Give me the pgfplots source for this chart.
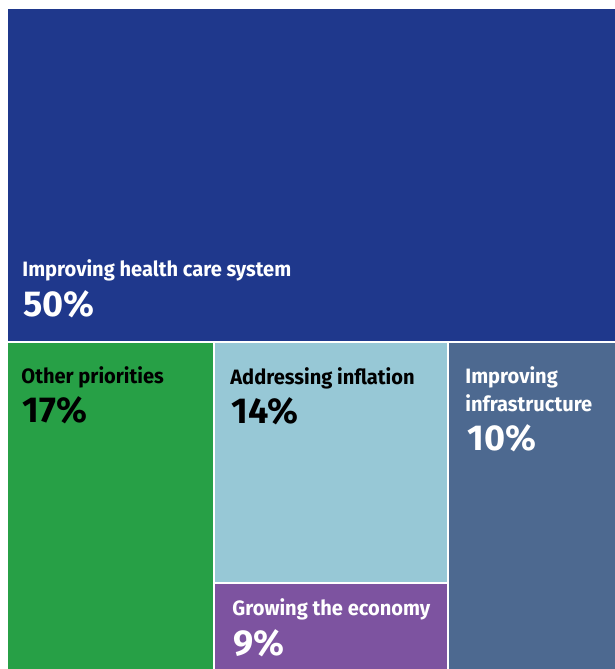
\documentclass[border=0pt]{standalone}
\usepackage{pgfplots}
\pgfplotsset{compat=1.18}
\usepackage{fontspec}
\setmainfont{Fira Sans}
\newfontfamily\labfont{Fira Sans}[FakeStretch=0.965]
\definecolor{cHealth}{HTML}{1F388C}
\definecolor{cOther}{HTML}{27A046}
\definecolor{cInfl}{HTML}{97C8D6}
\definecolor{cInfra}{HTML}{4D6990}
\definecolor{cGrow}{HTML}{7D53A0}
\tikzset{lab/.style={anchor=base west, inner sep=0pt, font=\labfont\bfseries\fontsize{10.4}{12}\selectfont},
         pct/.style={anchor=base west, inner sep=0pt, font=\bfseries\fontsize{18}{20}\selectfont}}
\begin{document}
\begin{tikzpicture}[x=1pt,y=1pt]
\begin{axis}[
  scale only axis, width=307.5pt, height=334.5pt,
  xmin=0, xmax=615, ymin=0, ymax=669, y dir=reverse,
  hide axis, clip=false,
]
\addplot[draw=none, forget plot] coordinates {(0,0) (615,669)};
% treemap tiles (pixel coordinates, value shares 50/17/14/10/9)
\addplot[fill=cHealth, draw=none] coordinates {(8,9) (615,9) (615,341) (8,341)} -- cycle;
\addplot[fill=cOther, draw=none] coordinates {(8,343) (213,343) (213,669) (8,669)} -- cycle;
\addplot[fill=cInfl, draw=none] coordinates {(215,343) (447,343) (447,582) (215,582)} -- cycle;
\addplot[fill=cGrow, draw=none] coordinates {(215,584) (447,584) (447,669) (215,669)} -- cycle;
\addplot[fill=cInfra, draw=none] coordinates {(449,343) (615,343) (615,669) (449,669)} -- cycle;

\node[lab, white] at (axis cs:22,276) {Improving health care system};
\node[pct, white] at (axis cs:23,316) {50\%};

\node[lab, black] at (axis cs:21,383) {Other priorities};
\node[pct, black] at (axis cs:22,422) {17\%};

\node[lab, black] at (axis cs:230,384) {Addressing inflation};
\node[pct, black] at (axis cs:231,423) {14\%};

\node[lab, white] at (axis cs:465,383) {Improving};
\node[lab, white] at (axis cs:465,411.5) {infrastructure};
\node[pct, white] at (axis cs:467,450.5) {10\%};

\node[lab, white] at (axis cs:232,615) {Growing the economy};
\node[pct, white] at (axis cs:233,655) {9\%};
\end{axis}
\end{tikzpicture}
\end{document}
